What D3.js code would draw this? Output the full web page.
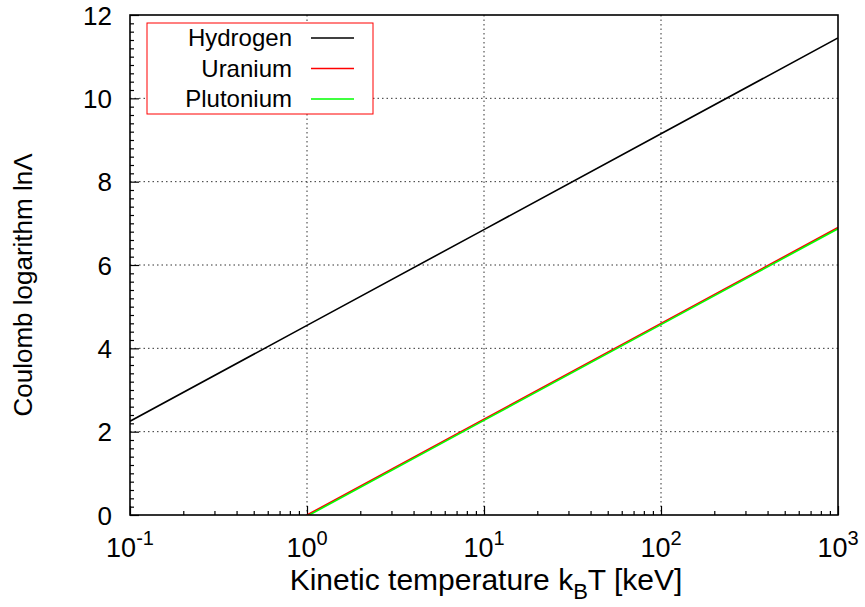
<!DOCTYPE html>
<html>
<head>
<meta charset="utf-8">
<script src="https://cdn.jsdelivr.net/npm/d3@7"></script>
<style>
  body { margin: 0; background: #fff; }
  svg { font-family: "Liberation Sans", Arial, sans-serif; }
</style>
</head>
<body>
<div id="vis"></div>
<script>
// values
const temps = [0.1, 1, 10, 100, 1000];
const hydrogen = [2.25, 4.55, 6.85, 9.15, 11.45];
const heavyTemps = [1, 10, 100, 1000];
const uranium = [0, 2.3, 4.6, 6.9];
const plutonium = [-0.03, 2.27, 4.57, 6.87];
const xTicks = [0.1, 1, 10, 100, 1000];
const xTickExp = ["-1", "0", "1", "2", "3"];
const yTicks = [0, 2, 4, 6, 8, 10, 12];
const seriesNames = ["Hydrogen", "Uranium", "Plutonium"];
const seriesColors = ["#000000", "#ff0000", "#00ff00"];

const margin = {top: 15, right: 27, bottom: 92, left: 130};
const W = 865, H = 607;
const width = W - margin.left - margin.right;
const height = H - margin.top - margin.bottom;

const svg = d3.select('#vis').append('svg')
    .attr('width', W)
    .attr('height', H);
const g = svg.append('g')
    .attr('transform', `translate(${margin.left},${margin.top})`);

const x = d3.scaleLog().domain([0.1, 1000]).range([0, width]);
const y = d3.scaleLinear().domain([0, 12]).range([height, 0]);

g.append('clipPath').attr('id', 'clip')
  .append('rect').attr('width', width).attr('height', height);

// grid (dotted, major ticks only, inner)
g.append('g').selectAll('line')
  .data(xTicks.slice(1, -1))
  .join('line')
  .attr('x1', d => x(d)).attr('x2', d => x(d))
  .attr('y1', 0).attr('y2', height)
  .attr('stroke', '#333').attr('stroke-width', 1)
  .attr('stroke-dasharray', '1.5,3');
g.append('g').selectAll('line')
  .data(yTicks.slice(1, -1))
  .join('line')
  .attr('y1', d => y(d)).attr('y2', d => y(d))
  .attr('x1', 0).attr('x2', width)
  .attr('stroke', '#333').attr('stroke-width', 1)
  .attr('stroke-dasharray', '1.5,3');

// x axis ticks
const xMinor = [];
for (let e = -1; e < 3; e++) for (let m = 2; m <= 9; m++) xMinor.push(m * Math.pow(10, e));
g.append('g').attr('transform', `translate(0,${height})`)
  .call(d3.axisBottom(x).tickValues(xMinor).tickSize(-4).tickFormat(''))
  .call(s => s.select('.domain').remove());
g.append('g').attr('transform', `translate(0,${height})`)
  .call(d3.axisBottom(x).tickValues(xTicks).tickSize(-9).tickFormat(''))
  .call(s => s.select('.domain').remove());

// y axis ticks
const yMinor = d3.range(0, 12.001, 0.2).map(v => +v.toFixed(1)).filter(v => !yTicks.includes(v));
g.append('g').call(d3.axisLeft(y).tickValues(yMinor).tickSize(-4).tickFormat(''))
  .call(s => s.select('.domain').remove());
g.append('g').call(d3.axisLeft(y).tickValues(yTicks).tickSize(-9).tickFormat(''))
  .call(s => s.select('.domain').remove());
g.selectAll('.tick line').attr('stroke', '#000').attr('stroke-width', 1.2);

// tick labels
g.append('g').selectAll('text')
  .data(yTicks)
  .join('text')
  .attr('x', -18).attr('y', d => y(d) + 9.5)
  .attr('text-anchor', 'end')
  .style('font-size', '26px')
  .text(d => d);

const xl = g.append('g').selectAll('text')
  .data(xTicks)
  .join('text')
  .attr('x', d => x(d))
  .attr('y', height + 42)
  .attr('text-anchor', 'middle')
  .style('font-size', '27px');
xl.append('tspan').text('10');
xl.append('tspan').attr('dy', -12).style('font-size', '20px').text((d, i) => xTickExp[i]);

// axis titles
g.append('text')
  .attr('x', width / 2 + 2).attr('y', height + 75)
  .attr('text-anchor', 'middle')
  .style('font-size', '30px')
  .call(t => {
    t.append('tspan').text('Kinetic temperature k');
    t.append('tspan').attr('dy', 9).style('font-size', '22px').text('B');
    t.append('tspan').attr('dy', -9).text('T [keV]');
  });
g.append('text')
  .attr('transform', 'rotate(-90)')
  .attr('x', -height / 2 - 20).attr('y', -98)
  .attr('text-anchor', 'middle')
  .style('font-size', '26px')
  .text('Coulomb logarithm lnΛ');

// lines
const line = d3.line().x(d => x(d[0])).y(d => y(d[1]));
const series = [
  d3.zip(temps, hydrogen),
  d3.zip(heavyTemps, uranium),
  d3.zip(heavyTemps, plutonium)
];
g.append('g').attr('clip-path', 'url(#clip)').selectAll('path')
  .data(series)
  .join('path')
  .attr('d', line)
  .attr('fill', 'none')
  .attr('stroke', (d, i) => seriesColors[i])
  .attr('stroke-width', 1.6);

// frame
g.append('rect')
  .attr('width', width).attr('height', height)
  .attr('fill', 'none').attr('stroke', '#000').attr('stroke-width', 1.6);

// legend
const leg = g.append('g').attr('transform', 'translate(17,8)');
leg.append('rect')
  .attr('width', 226).attr('height', 91)
  .attr('fill', '#fff').attr('stroke', '#ff0000').attr('stroke-width', 1);
const rows = leg.selectAll('.row')
  .data(seriesNames)
  .join('g')
  .attr('transform', (d, i) => `translate(0,${15 + i * 30.5})`);
rows.append('text')
  .attr('x', 145).attr('y', 8)
  .attr('text-anchor', 'end')
  .style('font-size', '24px')
  .text(d => d);
rows.append('line')
  .attr('x1', 164).attr('x2', 207)
  .attr('stroke', (d, i) => seriesColors[i])
  .attr('stroke-width', 1.6);
</script>
</body>
</html>
